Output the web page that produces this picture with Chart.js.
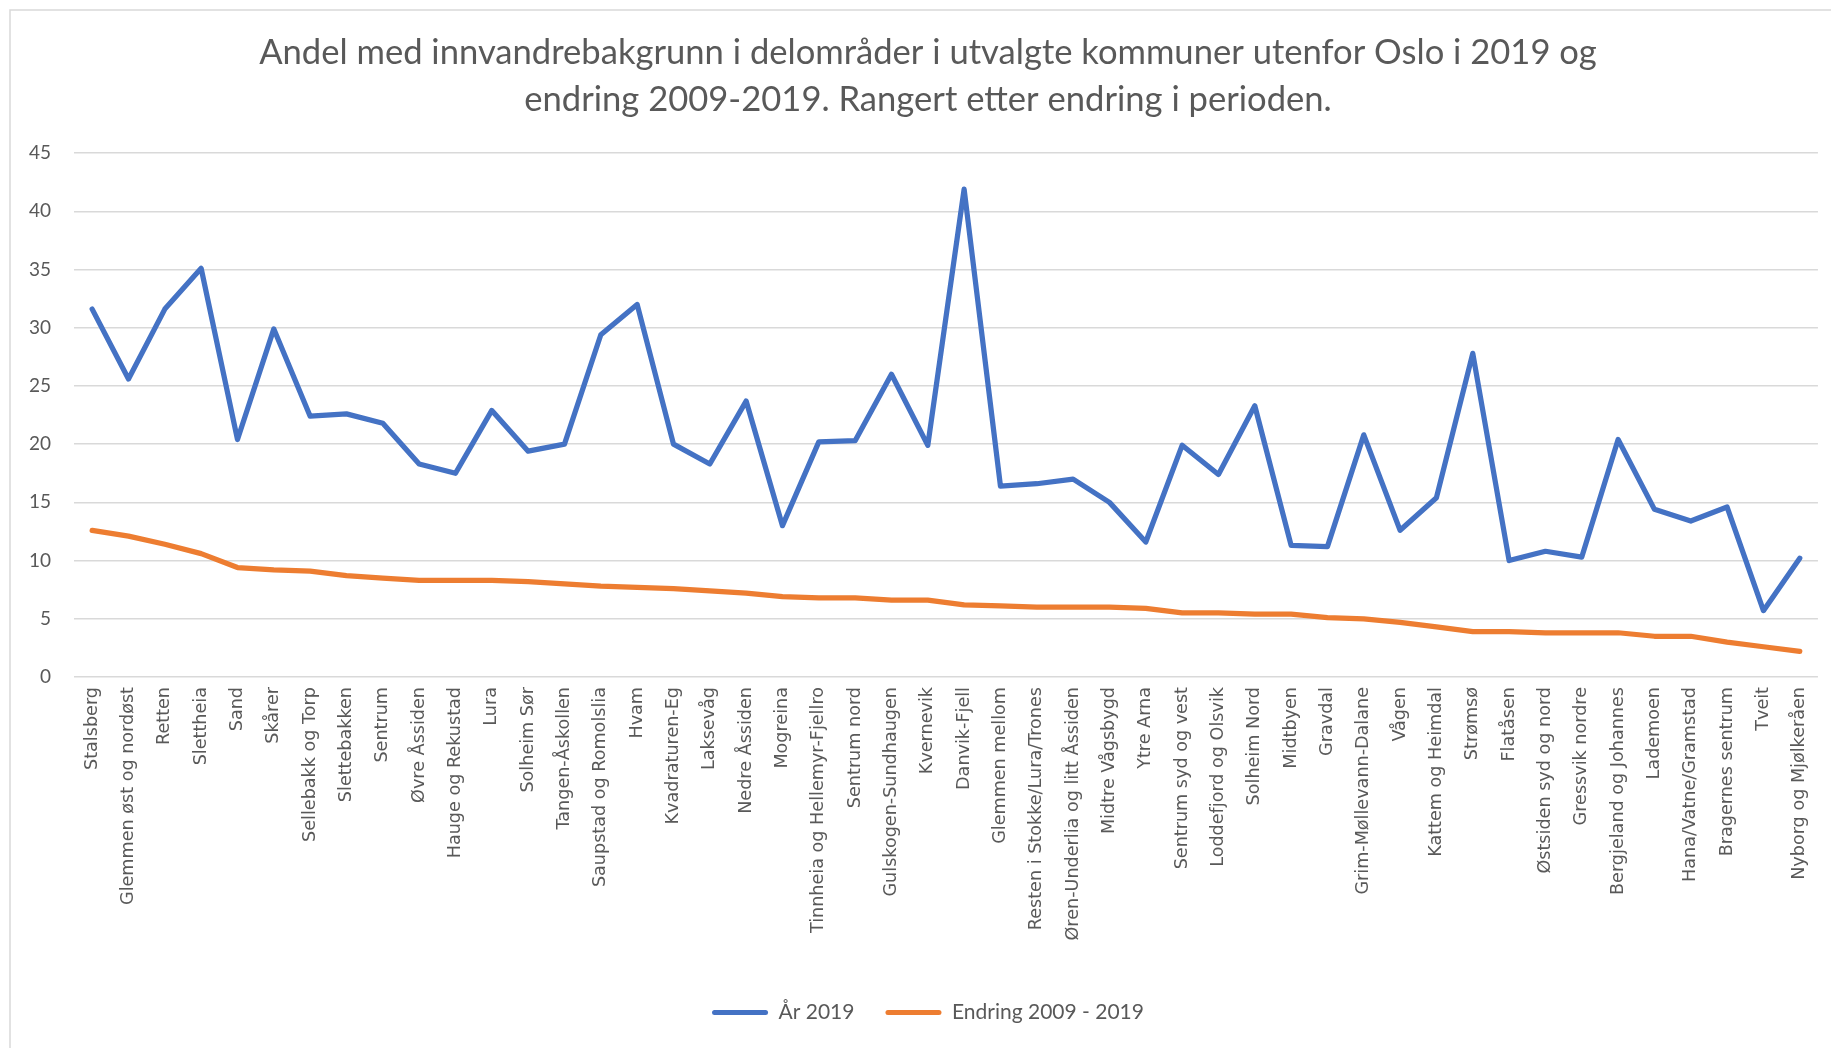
<!DOCTYPE html>
<html>
<head>
<meta charset="utf-8">
<script src="https://cdn.jsdelivr.net/npm/chart.js@4/dist/chart.umd.min.js"></script>
<style>
  html, body { margin: 0; padding: 0; background: #ffffff; }
  canvas { display: block; }
</style>
</head>
<body>
<canvas id="c" width="1831" height="1048"></canvas>
<script>
const categories = [
  "Stalsberg", "Glemmen øst og nordøst", "Retten", "Slettheia", "Sand", "Skårer",
  "Sellebakk og Torp", "Slettebakken", "Sentrum", "Øvre Åssiden", "Hauge og Rekustad",
  "Lura", "Solheim Sør", "Tangen-Åskollen", "Saupstad og Romolslia", "Hvam",
  "Kvadraturen-Eg", "Laksevåg", "Nedre Åssiden", "Mogreina", "Tinnheia og Hellemyr-Fjellro",
  "Sentrum nord", "Gulskogen-Sundhaugen", "Kvernevik", "Danvik-Fjell", "Glemmen mellom",
  "Resten i Stokke/Lura/Trones", "Øren-Underlia og litt Åssiden", "Midtre Vågsbygd",
  "Ytre Arna", "Sentrum syd og vest", "Loddefjord og Olsvik", "Solheim Nord", "Midtbyen",
  "Gravdal", "Grim-Møllevann-Dalane", "Vågen", "Kattem og Heimdal", "Strømsø", "Flatåsen",
  "Østsiden syd og nord", "Gressvik nordre", "Bergjeland og Johannes", "Lademoen",
  "Hana/Vatne/Gramstad", "Bragernes sentrum", "Tveit", "Nyborg og Mjølkeråen"
];
const aar2019 = [
  31.6, 25.6, 31.6, 35.1, 20.4, 29.9, 22.4, 22.6, 21.8, 18.3, 17.5, 22.9, 19.4, 20.0,
  29.4, 32.0, 20.0, 18.3, 23.7, 13.0, 20.2, 20.3, 26.0, 19.9, 41.9, 16.4, 16.6, 17.0,
  15.0, 11.6, 19.9, 17.4, 23.3, 11.3, 11.2, 20.8, 12.6, 15.4, 27.8, 10.0, 10.8, 10.3,
  20.4, 14.4, 13.4, 14.6, 5.7, 10.2
];
const endring = [
  12.6, 12.1, 11.4, 10.6, 9.4, 9.2, 9.1, 8.7, 8.5, 8.3, 8.3, 8.3, 8.2, 8.0,
  7.8, 7.7, 7.6, 7.4, 7.2, 6.9, 6.8, 6.8, 6.6, 6.6, 6.2, 6.1, 6.0, 6.0,
  6.0, 5.9, 5.5, 5.5, 5.4, 5.4, 5.1, 5.0, 4.7, 4.3, 3.9, 3.9, 3.8, 3.8,
  3.8, 3.5, 3.5, 3.0, 2.6, 2.2
];
const yTicks = [0, 5, 10, 15, 20, 25, 30, 35, 40, 45];
const seriesNames = ["År 2019", "Endring 2009 - 2019"];
const titleLines = [
  "Andel med innvandrebakgrunn i delområder i utvalgte kommuner utenfor Oslo i 2019 og",
  "endring 2009-2019. Rangert etter endring i perioden."
];

const BLUE = "#4472C4";
const ORANGE = "#ED7D31";
const GREY_TEXT = "#595959";
const GRID = "#D9D9D9";

const frame = {
  id: "frame",
  beforeDraw(chart) {
    const ctx = chart.ctx;
    ctx.save();
    ctx.fillStyle = "#ffffff";
    ctx.fillRect(0, 0, chart.width, chart.height);
    ctx.strokeStyle = GRID;
    ctx.lineWidth = 1.5;
    ctx.beginPath();
    ctx.moveTo(10, chart.height + 5);
    ctx.lineTo(10, 10);
    ctx.lineTo(chart.width + 5, 10);
    ctx.stroke();
    ctx.restore();
  }
};

new Chart(document.getElementById("c"), {
  type: "line",
  data: {
    labels: categories,
    datasets: [
      { label: seriesNames[0], data: aar2019, borderColor: BLUE, backgroundColor: BLUE,
        borderWidth: 5.25, pointRadius: 0, tension: 0, borderJoinStyle: "round", borderCapStyle: "round" },
      { label: seriesNames[1], data: endring, borderColor: ORANGE, backgroundColor: ORANGE,
        borderWidth: 5.25, pointRadius: 0, tension: 0, borderJoinStyle: "round", borderCapStyle: "round" }
    ]
  },
  options: {
    responsive: false,
    devicePixelRatio: 1,
    animation: false,
    layout: { padding: { top: 10, left: 36, right: 11, bottom: 15 } },
    plugins: {
      title: {
        display: true,
        text: titleLines,
        color: GREY_TEXT,
        font: { family: "Lato, 'Open Sans', sans-serif", size: 34.6, weight: "normal", lineHeight: 1.36 },
        padding: { top: 19.5, bottom: 29.5 }
      },
      legend: {
        position: "bottom",
        labels: {
          color: GREY_TEXT,
          font: { family: "Lato, 'Open Sans', sans-serif", size: 21 },
          boxWidth: 56,
          boxHeight: 5,
          padding: 31,
          generateLabels(chart) {
            const items = Chart.defaults.plugins.legend.labels.generateLabels(chart);
            items.forEach(it => { it.lineWidth = 0; it.borderRadius = 2.5; });
            return items;
          }
        }
      },
      tooltip: { enabled: false }
    },
    scales: {
      x: {
        offset: true,
        grid: { display: false, drawTicks: false },
        border: { display: false },
        ticks: {
          autoSkip: false,
          minRotation: 90,
          maxRotation: 90,
          padding: 10,
          color: GREY_TEXT,
          font: { family: "'DejaVu Sans', sans-serif", size: 17.6 }
        },
        afterFit(scale) { scale.height = 294; }
      },
      y: {
        min: 0,
        max: 45,
        afterBuildTicks(scale) { scale.ticks = yTicks.map(v => ({ value: v })); },
        grid: { color: GRID, lineWidth: 1.5, drawTicks: false },
        border: { display: false },
        ticks: {
          padding: 23,
          color: GREY_TEXT,
          font: { family: "Lato, 'Open Sans', sans-serif", size: 19 }
        },
        afterFit(scale) {
          scale.width = 38;
          scale._computeLabelArea = () => undefined;
        }
      }
    }
  },
  plugins: [frame]
});
</script>
</body>
</html>
